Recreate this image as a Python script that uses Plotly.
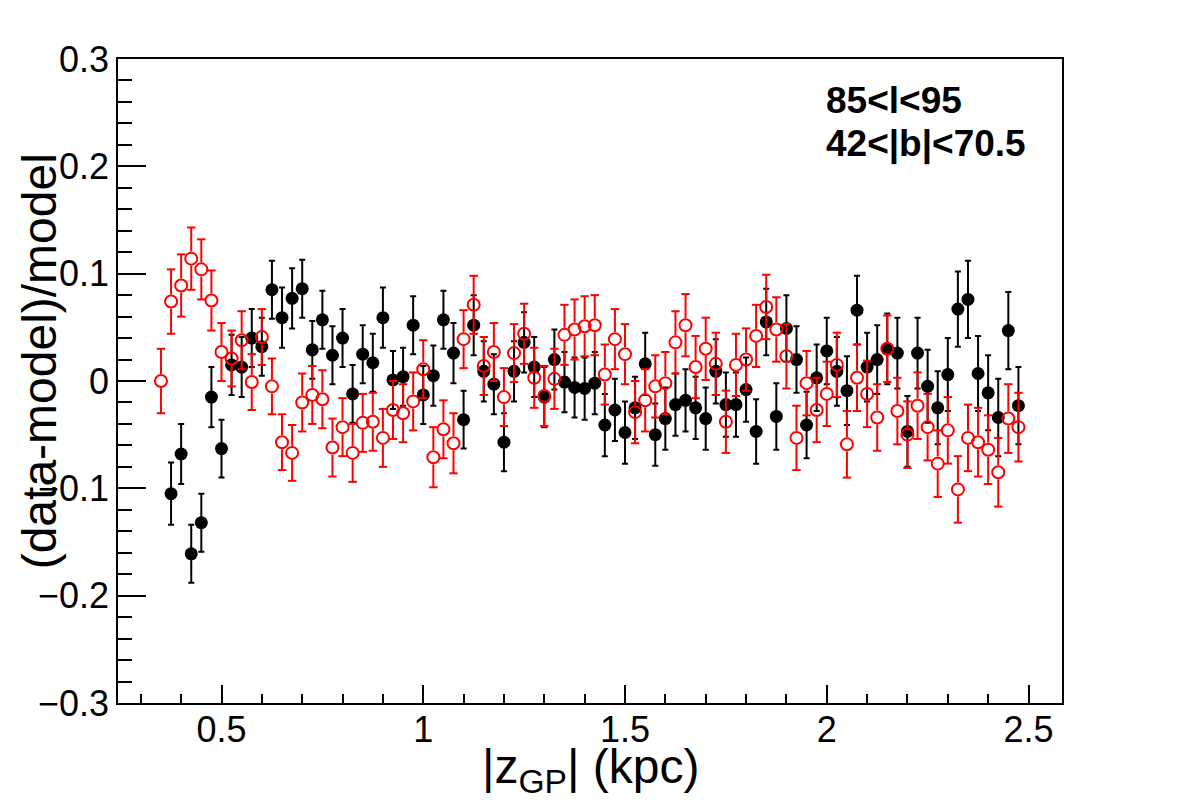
import plotly.graph_objects as go

# ---------------- data ----------------
x_black = [0.375, 0.400, 0.425, 0.450, 0.475, 0.500, 0.525, 0.550, 0.575, 0.600, 0.625, 0.650, 0.675,
           0.700, 0.725, 0.750, 0.775, 0.800, 0.825, 0.850, 0.875, 0.900, 0.925, 0.950, 0.975, 1.000, 1.025, 1.050,
           1.075, 1.100, 1.125, 1.150, 1.175, 1.200, 1.225, 1.250, 1.275, 1.300, 1.325, 1.350, 1.375, 1.400, 1.425,
           1.450, 1.475, 1.500, 1.525, 1.550, 1.575, 1.600, 1.625, 1.650, 1.675, 1.700, 1.725, 1.750, 1.775, 1.800,
           1.825, 1.850, 1.875, 1.900, 1.925, 1.950, 1.975, 2.000, 2.025, 2.050, 2.075, 2.100, 2.125, 2.150, 2.175,
           2.200, 2.225, 2.250, 2.275, 2.300, 2.325, 2.350, 2.375, 2.400, 2.425, 2.450, 2.475]
v_black = [-0.105, -0.068, -0.161, -0.132, -0.015, -0.063, 0.015, 0.013, 0.040, 0.032, 0.085, 0.059, 0.077,
           0.086, 0.029, 0.057, 0.024, 0.040, -0.012, 0.025, 0.017, 0.059, 0.001, 0.004, 0.052, -0.013, 0.005, 0.057,
           0.026, -0.036, 0.052, 0.009, -0.003, -0.057, 0.009, 0.036, 0.013, -0.015, 0.020, -0.001, -0.006, -0.007, -0.002,
           -0.041, -0.027, -0.048, -0.025, 0.016, -0.050, -0.035, -0.022, -0.018, -0.025, -0.035, 0.009, -0.022, -0.022, -0.008,
           -0.047, 0.055, -0.033, 0.049, 0.020, -0.041, 0.003, 0.028, 0.009, -0.009, 0.066, 0.013, 0.020, 0.030, 0.026,
           -0.047, 0.026, -0.005, -0.025, 0.006, 0.067, 0.076, 0.007, -0.011, -0.034, 0.047, -0.023]
e_black = [0.029, 0.028, 0.027, 0.027, 0.028, 0.027, 0.028, 0.028, 0.027, 0.027, 0.027, 0.028, 0.028,
           0.027, 0.027, 0.027, 0.027, 0.027, 0.027, 0.027, 0.027, 0.028, 0.027, 0.027, 0.027, 0.027, 0.028, 0.027,
           0.028, 0.027, 0.028, 0.028, 0.028, 0.027, 0.028, 0.028, 0.028, 0.028, 0.028, 0.028, 0.028, 0.029, 0.029,
           0.029, 0.029, 0.029, 0.029, 0.029, 0.029, 0.029, 0.029, 0.029, 0.029, 0.029, 0.030, 0.030, 0.030, 0.030,
           0.030, 0.031, 0.031, 0.031, 0.031, 0.031, 0.031, 0.031, 0.032, 0.032, 0.032, 0.032, 0.032, 0.033, 0.033,
           0.033, 0.033, 0.034, 0.034, 0.034, 0.035, 0.036, 0.035, 0.035, 0.036, 0.036, 0.036]

x_red = [0.350, 0.375, 0.400, 0.425, 0.450, 0.475, 0.500, 0.525, 0.550, 0.575, 0.600, 0.625, 0.650, 0.675,
         0.700, 0.725, 0.750, 0.775, 0.800, 0.825, 0.850, 0.875, 0.900, 0.925, 0.950, 0.975, 1.000, 1.025, 1.050,
         1.075, 1.100, 1.125, 1.150, 1.175, 1.200, 1.225, 1.250, 1.275, 1.300, 1.325, 1.350, 1.375, 1.400, 1.425,
         1.450, 1.475, 1.500, 1.525, 1.550, 1.575, 1.600, 1.625, 1.650, 1.675, 1.700, 1.725, 1.750, 1.775, 1.800,
         1.825, 1.850, 1.875, 1.900, 1.925, 1.950, 1.975, 2.000, 2.025, 2.050, 2.075, 2.100, 2.125, 2.150, 2.175,
         2.200, 2.225, 2.250, 2.275, 2.300, 2.325, 2.350, 2.375, 2.400, 2.425, 2.450, 2.475]
v_red = [0.000, 0.074, 0.089, 0.114, 0.104, 0.075, 0.027, 0.021, 0.038, -0.001, 0.041, -0.005, -0.057, -0.067,
         -0.020, -0.013, -0.017, -0.062, -0.043, -0.067, -0.039, -0.038, -0.053, -0.027, -0.030, -0.019, 0.011, -0.071, -0.045,
         -0.058, 0.039, 0.071, 0.014, 0.027, -0.015, 0.026, 0.044, 0.003, -0.014, 0.002, 0.043, 0.048, 0.051, 0.052,
         0.006, 0.039, 0.025, -0.029, -0.018, -0.005, -0.002, 0.036, 0.052, 0.013, 0.030, 0.016, -0.038, 0.015, 0.020,
         0.042, 0.069, 0.048, 0.023, -0.053, -0.002, -0.027, -0.012, 0.015, -0.059, 0.003, -0.012, -0.034, 0.030, -0.028,
         -0.050, -0.023, -0.043, -0.077, -0.046, -0.101, -0.053, -0.057, -0.064, -0.085, -0.035, -0.043]
e_red = [0.030, 0.030, 0.029, 0.029, 0.028, 0.028, 0.027, 0.026, 0.027, 0.026, 0.026, 0.026, 0.026, 0.026,
         0.027, 0.027, 0.027, 0.027, 0.027, 0.027, 0.027, 0.027, 0.027, 0.027, 0.027, 0.027, 0.027, 0.028, 0.027,
         0.028, 0.027, 0.027, 0.027, 0.027, 0.027, 0.027, 0.028, 0.028, 0.028, 0.028, 0.028, 0.028, 0.028, 0.028,
         0.028, 0.028, 0.028, 0.029, 0.029, 0.029, 0.029, 0.029, 0.029, 0.029, 0.029, 0.029, 0.029, 0.029, 0.029,
         0.029, 0.030, 0.030, 0.030, 0.030, 0.030, 0.030, 0.030, 0.030, 0.031, 0.031, 0.031, 0.031, 0.031, 0.031,
         0.031, 0.031, 0.031, 0.031, 0.031, 0.031, 0.031, 0.032, 0.032, 0.032, 0.032, 0.032]

x_title = "|z<sub>GP</sub>| (kpc)"
y_title = "(data-model)/model"
label_lines = ["85<l<95", "42<|b|<70.5"]

FONT = "Liberation Sans, Arial, Helvetica, sans-serif"

fig = go.Figure()

# black filled points with error bars
fig.add_trace(go.Scatter(
    x=x_black, y=v_black, mode="markers",
    marker=dict(symbol="circle", size=13, color="black"),
    error_y=dict(type="data", array=e_black, visible=True, color="black", thickness=2, width=3),
    showlegend=False, hoverinfo="x+y"))

# red open points: error bars drawn outside the marker (ROOT style)
gap = 0.0066
bx, by = [], []
for xi, yi, ei in zip(x_red, v_red, e_red):
    bx += [xi, xi, None, xi, xi, None]
    by += [yi + gap, yi + ei, None, yi - gap, yi - ei, None]
fig.add_trace(go.Scatter(x=bx, y=by, mode="lines", line=dict(color="#ff0000", width=2),
                         showlegend=False, hoverinfo="skip"))
cap_x = x_red + x_red
cap_y = [yi + ei for yi, ei in zip(v_red, e_red)] + [yi - ei for yi, ei in zip(v_red, e_red)]
fig.add_trace(go.Scatter(x=cap_x, y=cap_y, mode="markers",
                         marker=dict(symbol="line-ew", size=6, color="#ff0000",
                                     line=dict(color="#ff0000", width=2)),
                         showlegend=False, hoverinfo="skip"))
fig.add_trace(go.Scatter(
    x=x_red, y=v_red, mode="markers",
    marker=dict(symbol="circle-open", size=12, color="#ff0000", line=dict(width=2, color="#ff0000")),
    showlegend=False))

axis_common = dict(
    showline=True, linecolor="black", linewidth=1.5, mirror=True,
    ticks="inside", tickcolor="black", tickwidth=1.5,
    showgrid=False, zeroline=False,
    tickfont=dict(family=FONT, size=36, color="black"),
)

fig.update_xaxes(range=[0.2435, 2.583], tick0=0.5, dtick=0.5, ticklen=18,
                 ticklabelstandoff=-6,
                 minor=dict(ticks="inside", ticklen=9, dtick=0.1, tick0=0.0,
                            tickcolor="black", tickwidth=1.5),
                 **axis_common)
fig.update_yaxes(range=[-0.3, 0.3], tick0=0, dtick=0.1, ticklen=28,
                 minor=dict(ticks="inside", ticklen=14, dtick=0.02, tick0=0.0,
                            tickcolor="black", tickwidth=1.5),
                 **axis_common)

annotations = [
    dict(text=y_title, xref="paper", yref="paper", x=-0.083, y=0.53, textangle=-90,
         xanchor="center", yanchor="middle", showarrow=False,
         font=dict(family=FONT, size=48, color="black")),
    dict(text=x_title, xref="paper", yref="paper", x=0.5, y=-0.055,
         xanchor="center", yanchor="top", showarrow=False,
         font=dict(family=FONT, size=48, color="black")),
    dict(text="<b>" + label_lines[0] + "</b>", xref="paper", yref="paper", x=0.748, y=0.935,
         xanchor="left", yanchor="middle", showarrow=False,
         font=dict(family=FONT, size=37, color="black")),
    dict(text="<b>" + label_lines[1] + "</b>", xref="paper", yref="paper", x=0.748, y=0.868,
         xanchor="left", yanchor="middle", showarrow=False,
         font=dict(family=FONT, size=37, color="black")),
]

fig.update_layout(
    width=1182, height=805,
    margin=dict(l=118, r=120, t=59, b=102, pad=0),
    paper_bgcolor="white", plot_bgcolor="white",
    annotations=annotations,
    showlegend=False,
)

fig.write_html("out.html")
